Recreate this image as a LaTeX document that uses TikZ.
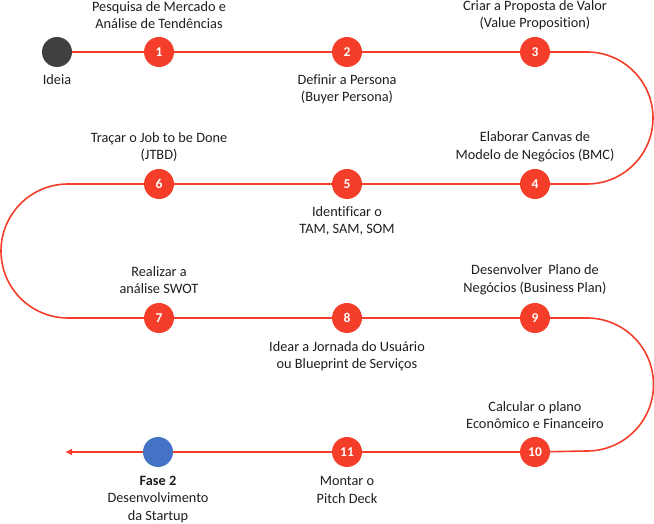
\documentclass[tikz,border=0pt]{standalone}
\usepackage{fontspec}
\setmainfont{Carlito}[Ligatures={NoCommon}]
\usetikzlibrary{arrows.meta,calc}
\definecolor{rd}{RGB}{244,62,42}
\definecolor{dk}{RGB}{64,64,64}
\definecolor{bl}{RGB}{68,114,196}
\definecolor{tx}{RGB}{30,30,30}
\tikzset{
  stepdot/.style={circle,fill=rd,minimum size=30pt,inner sep=0pt,text=white,font=\fontsize{13.5}{15}\selectfont\bfseries},
  enddot/.style={circle,minimum size=30pt,inner sep=0pt},
  lbl/.style={align=center,inner sep=0pt,text=tx,font=\fontsize{14.3}{17.5}\selectfont},
  path/.style={draw=rd,line width=1.6pt},
}
\begin{document}
\begin{tikzpicture}[x=1pt,y=1pt]
\useasboundingbox (0,0) rectangle (654,524);
% nodes
\node[enddot,fill=dk] (ideia) at (57,472) {};
\node[stepdot] (n1) at (159,472) {1};
\node[stepdot] (n2) at (347,472) {2};
\node[stepdot] (n3) at (535,472) {3};
\node[stepdot] (n4) at (535,340) {4};
\node[stepdot] (n5) at (347,340) {5};
\node[stepdot] (n6) at (159,340) {6};
\node[stepdot] (n7) at (159,206) {7};
\node[stepdot] (n8) at (347,206) {8};
\node[stepdot] (n9) at (535,206) {9};
\node[stepdot] (n10) at (535,72) {10};
\node[stepdot] (n11) at (347,72) {11};
\node[enddot,fill=bl] (fase) at (158,72) {};
\coordinate (a1) at (587,472);
\coordinate (b1) at (68,340);
\coordinate (c1) at (587,206);
\coordinate (tip) at (65,72);
% connectors
\path[path] (ideia) -- (n1);
\path[path] (n1) -- (n2);
\path[path] (n2) -- (n3);
\path[path] (n3) -- (a1) arc[start angle=90,end angle=-90,radius=66] -- (n4);
\path[path] (n4) -- (n5);
\path[path] (n5) -- (n6);
\path[path] (n6) -- (b1) arc[start angle=90,end angle=270,radius=67] -- (n7);
\path[path] (n7) -- (n8);
\path[path] (n8) -- (n9);
\path[path] (n9) -- (c1) arc[start angle=90,end angle=-90,radius=66.5] -- (n10);
\path[path] (n10) -- (n11);
\path[path] (n11) -- (fase);
\path[path,-{Latex[length=7pt,width=7pt]}] (fase) -- (tip);
% labels
\node[lbl] at ($(ideia)+(0,-28)$) {Ideia};
\node[lbl] at ($(n1)+(0,37)$) {Pesquisa de Mercado e\\Análise de Tendências};
\node[lbl] at ($(n2)+(0,-37)$) {Definir a Persona\\(Buyer Persona)};
\node[lbl] at ($(n3)+(0,37)$) {Criar a Proposta de Valor\\(Value Proposition)};
\node[lbl] at ($(n4)+(0,37)$) {Elaborar Canvas de\\Modelo de Negócios (BMC)};
\node[lbl] at ($(n5)+(0,-37)$) {Identificar o\\TAM, SAM, SOM};
\node[lbl] at ($(n6)+(0,37)$) {Traçar o Job to be Done\\(JTBD)};
\node[lbl] at ($(n7)+(0,38)$) {Realizar a\\análise SWOT};
\node[lbl] at ($(n8)+(0,-38)$) {Idear a Jornada do Usuário\\ou Blueprint de Serviços};
\node[lbl] at ($(n9)+(0,38)$) {Desenvolver\, Plano de\\Negócios (Business Plan)};
\node[lbl] at ($(n10)+(0,37)$) {Calcular o plano\\Econômico e Financeiro};
\node[lbl] at ($(n11)+(0,-38)$) {Montar o\\Pitch Deck};
\node[lbl] at ($(fase)+(0,-47)$) {\textbf{Fase 2}\\Desenvolvimento\\da Startup};
\end{tikzpicture}
\end{document}
